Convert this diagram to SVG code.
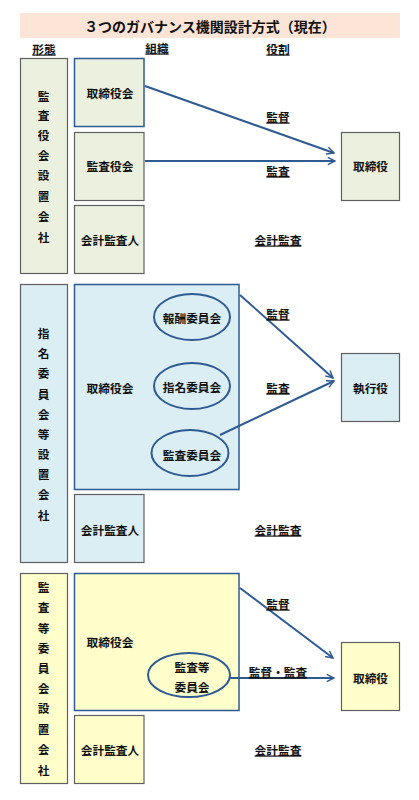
<svg xmlns="http://www.w3.org/2000/svg" width="419" height="800" viewBox="0 0 419 800">
<style>
text{font-family:"Noto Sans CJK JP","Noto Sans CJK SC",sans-serif;font-weight:bold;font-size:11.7px;fill:#111;text-anchor:middle;dominant-baseline:central}
.g{stroke:#5f5f5f;stroke-width:1.2}
.b{stroke:#2f5a92;stroke-width:1.5}
.s1{fill:#ebf1de}.s2{fill:#daeef3}.s3{fill:#ffffcc}
.el{fill:none;stroke:#2f5a92;stroke-width:2}
.u{text-decoration:underline}
.t{font-size:14px}
.c{stroke:#2f5a92;stroke-width:2;fill:none;marker-end:url(#ah)}
</style>
<defs>
<marker id="ah" viewBox="0 0 10 10" refX="9" refY="5" markerWidth="9" markerHeight="9" markerUnits="userSpaceOnUse" orient="auto">
<path d="M1,1 L9,5 L1,9" fill="none" stroke="#2f5a92" stroke-width="1.6"/>
</marker>
</defs>
<rect width="419" height="800" fill="#fff"/>
<g id="title"><rect x="20" y="13" width="380" height="25" fill="#fce4d6"/><text x="210" y="25.5" class="t">３つのガバナンス機関設計方式（現在）</text></g>
<g id="headers"><text x="44" y="48" class="u">形態</text><text x="157" y="47" class="u">組織</text><text x="278" y="48" class="u">役割</text></g>

<!-- Section 1 -->
<g id="form1"><rect x="20.5" y="58.5" width="47" height="215" class="g s1"/>
<text x="43.5" y="95">監</text><text x="43.5" y="114">査</text><text x="43.5" y="134">役</text><text x="43.5" y="154">会</text><text x="43.5" y="174">設</text><text x="43.5" y="195">置</text><text x="43.5" y="215">会</text><text x="43.5" y="236">社</text></g>
<g id="board1"><rect x="74.5" y="58.5" width="69.5" height="68" class="b s1"/><text x="110" y="92">取締役会</text></g>
<g id="kansayakukai"><rect x="74.5" y="132.5" width="69.5" height="68" class="g s1"/><text x="110" y="165">監査役会</text></g>
<g id="auditor1"><rect x="74.5" y="205.5" width="69.5" height="68" class="g s1"/><text x="110" y="239">会計監査人</text></g>
<g id="director1"><rect x="341.5" y="132.5" width="58" height="68" class="g s1"/><text x="370.5" y="165">取締役</text></g>

<!-- Section 2 -->
<g id="form2"><rect x="20.5" y="284.5" width="47" height="278" class="g s2"/>
<text x="43.5" y="332">指</text><text x="43.5" y="352">名</text><text x="43.5" y="372">委</text><text x="43.5" y="393">員</text><text x="43.5" y="413">会</text><text x="43.5" y="433">等</text><text x="43.5" y="453">設</text><text x="43.5" y="473">置</text><text x="43.5" y="493">会</text><text x="43.5" y="514">社</text></g>
<g id="board2"><rect x="74.5" y="284.5" width="164.5" height="205" class="b s2"/><text x="110" y="387">取締役会</text></g>
<g id="comp"><ellipse cx="192" cy="317" rx="38" ry="23" class="el"/><text x="192" y="317">報酬委員会</text></g>
<g id="nom"><ellipse cx="192" cy="386" rx="38" ry="23" class="el"/><text x="192" y="386">指名委員会</text></g>
<g id="audit"><ellipse cx="190" cy="453" rx="38.5" ry="23" class="el"/><text x="192" y="454">監査委員会</text></g>
<g id="auditor2"><rect x="74.5" y="494.5" width="69.5" height="68" class="g s2"/><text x="110" y="529">会計監査人</text></g>
<g id="exec"><rect x="341.5" y="353.5" width="58" height="68" class="g s2"/><text x="370.5" y="387">執行役</text></g>

<!-- Section 3 -->
<g id="form3"><rect x="20.5" y="573.5" width="47" height="210" class="g s3"/>
<text x="43.5" y="586">監</text><text x="43.5" y="606">査</text><text x="43.5" y="627">等</text><text x="43.5" y="647">委</text><text x="43.5" y="667">員</text><text x="43.5" y="687">会</text><text x="43.5" y="707">設</text><text x="43.5" y="728">置</text><text x="43.5" y="748">会</text><text x="43.5" y="769">社</text></g>
<g id="board3"><rect x="74.5" y="573.5" width="164.5" height="137" class="b s3"/><text x="110" y="641">取締役会</text></g>
<g id="acomm"><ellipse cx="189" cy="675" rx="41" ry="22" class="el"/><text x="192" y="666">監査等</text><text x="192" y="686">委員会</text></g>
<g id="auditor3"><rect x="74.5" y="715.5" width="69.5" height="68" class="g s3"/><text x="110" y="749">会計監査人</text></g>
<g id="director3"><rect x="341.5" y="642.5" width="58" height="68" class="g s3"/><text x="370.5" y="677">取締役</text></g>

<g id="connectors">
<path d="M145,86 L334,153" class="c"/>
<path d="M145,161 L335,161" class="c"/>
<path d="M240,295 L333,378" class="c"/>
<path d="M220,435 L334,381" class="c"/>
<path d="M240,588 L333,658" class="c"/>
<path d="M230,678 L334,678" class="c"/>
</g>
<g id="labels">
<text x="278" y="116" class="u">監督</text>
<text x="278" y="170" class="u">監査</text>
<text x="278" y="239" class="u">会計監査</text>
<text x="278" y="313" class="u">監督</text>
<text x="278" y="387" class="u">監査</text>
<text x="278" y="529" class="u">会計監査</text>
<text x="278" y="603" class="u">監督</text>
<text x="278" y="671" class="u">監督・監査</text>
<text x="278" y="749" class="u">会計監査</text>
</g>
</svg>
